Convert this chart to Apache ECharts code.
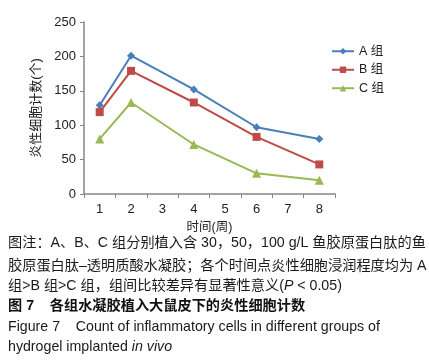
<!DOCTYPE html>
<html><head><meta charset="utf-8">
<script src="https://cdn.jsdelivr.net/npm/echarts@6/dist/echarts.min.js"></script>
<style>html,body{margin:0;padding:0;background:#fff;}#c{width:429px;height:362px;}</style>
</head><body><div id="c"></div>
<script>
const categories = ['1','2','3','4','5','6','7','8'];
const seriesA = [129, 201, null, 152, null, 97, null, 80];
const seriesB = [119, 179, null, 133, null, 83, null, 43];
const seriesC = [80, 133, null, 72, null, 30, null, 20];
const seriesNames = ['A 组','B 组','C 组'];
const yTicks = [0, 50, 100, 150, 200, 250];

const captionLines = [
  {t:'{n|图注：A、B、C 组分别植入含 30，50，100 g/L 鱼胶原蛋白肽的鱼}', y:245},
  {t:'{n|胶原蛋白肽–透明质酸水凝胶；各个时间点炎性细胞浸润程度均为 A}', y:268},
  {t:'{n|组>B 组>C 组，组间比较差异有显著性意义(}{i|P}{n| < 0.05)}', y:288},
  {t:'{b|图 7    各组水凝胶植入大鼠皮下的炎性细胞计数}', y:308},
  {t:'{n|Figure 7    Count of inflammatory cells in different groups of}', y:329},
  {t:'{n|hydrogel implanted }{i|in vivo}', y:349},
];

const chart = echarts.init(document.getElementById('c'), null, {renderer:'canvas'});
const font = '"Liberation Sans", Arial, "Noto Sans CJK SC", sans-serif';
const colors = ['#4a7ebb','#be4b48','#98b954'];
const symbols = ['diamond','rect','triangle'];
const sizes = [8,8,9];
const data = [seriesA, seriesB, seriesC];
const fs = 14.2;
const rich = {
  n:{font:fs+'px '+font, fill:'#1a1a1a'},
  i:{font:'italic '+fs+'px '+font, fill:'#1a1a1a'},
  b:{font:'bold '+fs+'px '+font, fill:'#111'}
};

const graphics = captionLines.map(l => ({
  type:'text', left:8, top:l.y-9,
  style:{text:l.t, rich:rich}
}));

chart.setOption({
  animation:false,
  color:colors,
  textStyle:{fontFamily:font},
  grid:{left:84, right:94, top:22, bottom:168, containLabel:false},
  legend:{
    orient:'vertical', left:326, top:40, itemWidth:22, itemHeight:8, itemGap:6,
    textStyle:{fontSize:12.5, color:'#222', fontFamily:font},
    data:seriesNames.map(n=>({name:n}))
  },
  xAxis:{
    type:'category', data:categories, boundaryGap:true,
    name:'时间(周)', nameLocation:'middle', nameGap:27,
    nameTextStyle:{fontSize:12.5, color:'#222', fontFamily:font},
    axisLine:{lineStyle:{color:'#868686', width:1.5}},
    axisTick:{show:true, alignWithLabel:false, length:4, lineStyle:{color:'#868686'}},
    axisLabel:{fontSize:13, color:'#222', margin:9}
  },
  yAxis:{
    type:'value', min:0, max:250, interval:50,
    name:'炎性细胞计数(个)', nameLocation:'middle', nameGap:36, nameRotate:90,
    nameTextStyle:{fontSize:13, color:'#222', fontFamily:font},
    splitLine:{show:false},
    axisLine:{show:true, lineStyle:{color:'#868686', width:1.5}},
    axisTick:{show:true, length:4, lineStyle:{color:'#868686'}},
    axisLabel:{fontSize:13, color:'#222', margin:8, formatter:v=>yTicks.includes(v)?String(v):''}
  },
  series:seriesNames.map((n,i)=>({
    name:n, type:'line', data:data[i], connectNulls:true,
    symbol:symbols[i], symbolSize:sizes[i],
    lineStyle:{width:2, color:colors[i]},
    itemStyle:{color:colors[i]}
  })),
  graphic:graphics
});
</script></body></html>
